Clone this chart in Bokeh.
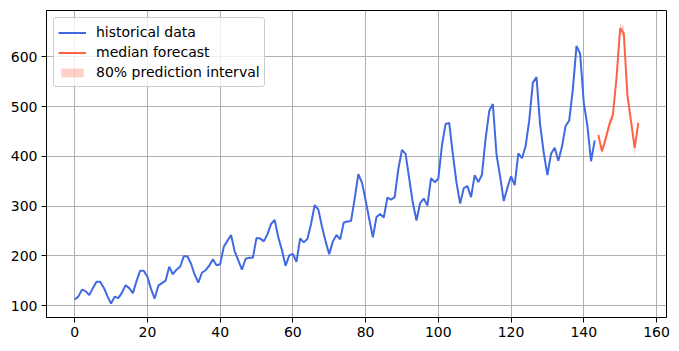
from bokeh.plotting import figure
from bokeh.embed import file_html
from bokeh.resources import INLINE
from bokeh.models import FixedTicker, Range1d, Legend, LegendItem

history = [112, 118, 132, 129, 121, 135, 148, 148, 136, 119, 104, 118,
           115, 126, 141, 135, 125, 149, 170, 170, 158, 133, 114, 140,
           145, 150, 178, 163, 172, 178, 199, 199, 184, 162, 146, 166,
           171, 180, 193, 181, 183, 218, 230, 242, 209, 191, 172, 194,
           196, 196, 236, 235, 229, 243, 264, 272, 237, 211, 180, 201,
           204, 188, 235, 227, 234, 264, 302, 293, 259, 229, 203, 229,
           242, 233, 267, 269, 270, 315, 364, 347, 312, 274, 237, 278,
           284, 277, 317, 313, 318, 374, 413, 405, 355, 306, 271, 306,
           315, 301, 356, 348, 355, 422, 465, 467, 404, 347, 305, 336,
           340, 318, 362, 348, 363, 435, 491, 505, 404, 359, 310, 337,
           360, 342, 406, 396, 420, 472, 548, 559, 463, 407, 362, 405,
           417, 391, 419, 461, 472, 535, 622, 606, 508, 461, 390, 432]
hist_x = list(range(len(history)))

forecast_x = list(range(144, 156))
median = [443, 410, 435, 463, 483, 557, 657, 647, 523, 470, 417, 467]
low = [436, 403, 427, 455, 475, 547, 647, 637, 513, 461, 401, 457]
high = [449, 416, 442, 471, 491, 566, 666, 661, 533, 479, 426, 476]

x_ticks = [0, 20, 40, 60, 80, 100, 120, 140, 160]
y_ticks = [100, 200, 300, 400, 500, 600]

p = figure(width=679, height=351, output_backend="svg", toolbar_location=None,
           x_range=Range1d(-7.75, 162.75), y_range=Range1d(76, 693),
           min_border_left=46, min_border_right=13, min_border_top=10, min_border_bottom=34)

p.background_fill_color = "white"
p.border_fill_color = "white"
p.outline_line_color = "black"
p.outline_line_width = 1

r_hist = p.line(hist_x, history, line_color="#4169E1", line_width=2)
r_band = p.varea(x=forecast_x, y1=low, y2=high, fill_color="#FF6347", fill_alpha=0.3)
r_med = p.line(forecast_x, median, line_color="#FF6347", line_width=2)

for ax in (p.xaxis[0], p.yaxis[0]):
    ax.major_label_text_font = "DejaVu Sans"
    ax.major_label_text_font_size = "14px"
    ax.major_label_text_color = "black"
    ax.axis_line_color = "black"
    ax.major_tick_line_color = "black"
    ax.major_tick_out = 5
    ax.major_tick_in = 0
    ax.minor_tick_line_color = None
    ax.major_label_standoff = 4

p.xaxis[0].ticker = FixedTicker(ticks=x_ticks)
p.yaxis[0].ticker = FixedTicker(ticks=y_ticks)

p.xgrid.ticker = FixedTicker(ticks=x_ticks)
p.ygrid.ticker = FixedTicker(ticks=y_ticks)
for g in (p.xgrid[0], p.ygrid[0]):
    g.grid_line_color = "#b0b0b0"
    g.grid_line_width = 1

legend = Legend(items=[
    LegendItem(label="historical data", renderers=[r_hist]),
    LegendItem(label="median forecast", renderers=[r_med]),
    LegendItem(label="80% prediction interval", renderers=[r_band]),
], location="top_left")
legend.label_text_font = "DejaVu Sans"
legend.label_text_font_size = "14px"
legend.label_text_color = "black"
legend.border_line_color = "#cccccc"
legend.border_line_alpha = 1
legend.border_radius = 3
legend.background_fill_alpha = 0.8
legend.glyph_width = 28
legend.glyph_height = 11
legend.spacing = 0
legend.padding = 4
legend.margin = 7
legend.label_standoff = 10
legend.label_height = 20
p.add_layout(legend)

open("out.html", "w").write(file_html(p, INLINE))
